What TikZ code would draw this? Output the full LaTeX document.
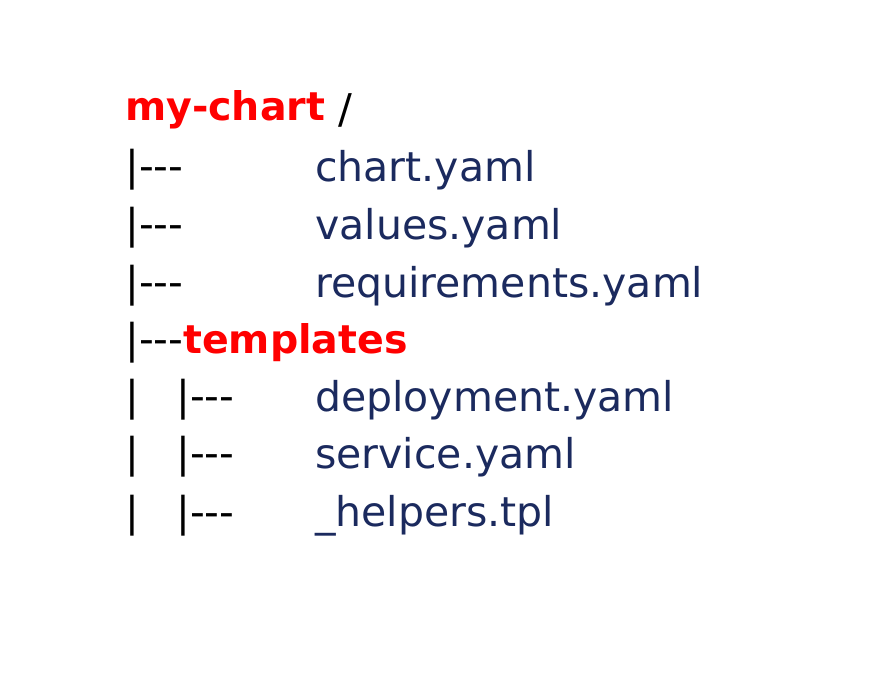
\documentclass[tikz,border=0pt]{standalone}
\usepackage{fontspec}
\setmainfont{DejaVu Sans}
\definecolor{navy}{HTML}{1B2A5E}
\definecolor{hred}{HTML}{FF0000}
\begin{document}
\begin{tikzpicture}[x=1pt,y=-1pt,
  t/.style={anchor=west,inner sep=0pt,font=\fontsize{41}{45}\selectfont},
  dir/.style={t,text=hred,font=\fontsize{39.5}{45}\selectfont\bfseries},
  file/.style={t,text=navy},
  tree/.style={t,text=black}]
\useasboundingbox (0,0) rectangle (878,672);
\node[dir] (root) at (125,110) {my-chart};
\node[tree] (slash) at (338,110) {/};
\node[tree] (r1) at (125,170) {|{-}{-}{-}};
\node[file] (f1) at (315,170) {chart.yaml};
\node[tree] (r2) at (125,228) {|{-}{-}{-}};
\node[file] (f2) at (315,228) {values.yaml};
\node[tree] (r3) at (125,286) {|{-}{-}{-}};
\node[file] (f3) at (315,286) {requirements.yaml};
\node[tree] (r4) at (125,343) {|{-}{-}{-}};
\node[dir] (tpl) at (183,343) {templates};
\node[tree] (v5) at (125,400) {|};
\node[tree] (r5) at (176,400) {|{-}{-}{-}};
\node[file] (f5) at (315,400) {deployment.yaml};
\node[tree] (v6) at (125,457) {|};
\node[tree] (r6) at (176,457) {|{-}{-}{-}};
\node[file] (f6) at (315,457) {service.yaml};
\node[tree] (v7) at (125,516) {|};
\node[tree] (r7) at (176,516) {|{-}{-}{-}};
\node[file] (f7) at (315,516) {\_helpers.tpl};
\end{tikzpicture}
\end{document}
